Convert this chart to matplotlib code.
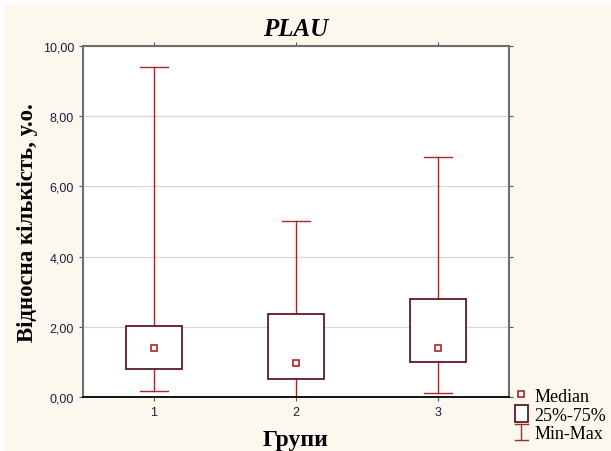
import matplotlib
matplotlib.use("Agg")
import matplotlib.pyplot as plt
from matplotlib.patches import Rectangle
from matplotlib.lines import Line2D
from matplotlib.legend_handler import HandlerBase
from matplotlib.ticker import FuncFormatter

groups = [1, 2, 3]
q_min = [0.17, 0.0, 0.11]
q25 = [0.80, 0.52, 1.00]
median = [1.41, 0.98, 1.41]
q75 = [2.03, 2.37, 2.80]
q_max = [9.41, 5.01, 6.83]

bg = "#fdf8ee"
whisk_col = "#a52a2a"
box_col = "#5e1a24"
med_col = "#b22222"


class BoxIcon(HandlerBase):
    # tall narrow box for the 25%-75% entry
    def create_artists(self, legend, orig, x0, y0, width, height, fontsize, trans):
        h = height * 1.3
        r = Rectangle((x0, y0 + height / 2 - h / 2), width, h,
                      facecolor="white", edgecolor=box_col, lw=1.3, transform=trans)
        return [r]


class RangeIcon(HandlerBase):
    # I-shaped whisker symbol for Min-Max
    def create_artists(self, legend, orig, x0, y0, width, height, fontsize, trans):
        h = height * 1.3
        cx = x0 + width / 2
        yb = y0 + height / 2 - h / 2
        yt = yb + h
        kw = dict(color=whisk_col, lw=1.0, transform=trans)
        return [Line2D([cx, cx], [yb, yt], **kw),
                Line2D([x0, x0 + width], [yt, yt], **kw),
                Line2D([x0, x0 + width], [yb, yb], **kw)]


fig = plt.figure(figsize=(6.11, 4.52), dpi=100)
fig.patch.set_facecolor("white")
fig.patches.append(Rectangle((4 / 611, 0), 1, 1 - 6 / 452, transform=fig.transFigure,
                             facecolor=bg, edgecolor="none", zorder=-10))

ax = fig.add_axes([83 / 611, 54 / 452, 426 / 611, 351 / 452])
ax.set_facecolor("white")

box_w = 0.4
cap_w = 0.2
for g, lo, a, m, b, hi in zip(groups, q_min, q25, median, q75, q_max):
    ax.plot([g, g], [b, hi], color=whisk_col, lw=1.0, zorder=2)
    ax.plot([g, g], [lo, a], color=whisk_col, lw=1.0, zorder=2)
    ax.plot([g - cap_w / 2, g + cap_w / 2], [hi, hi], color=whisk_col, lw=1.0, zorder=2)
    ax.plot([g - cap_w / 2, g + cap_w / 2], [lo, lo], color=whisk_col, lw=1.0, zorder=2)
    ax.add_patch(Rectangle((g - box_w / 2, a), box_w, b - a, facecolor="white",
                           edgecolor=box_col, lw=1.3, zorder=3))
ax.plot(groups, median, "s", ms=4.5, mfc="white", mec=med_col, mew=1.2, ls="none", zorder=4)

ax.set_xlim(0.5, 3.5)
ax.set_ylim(0, 10)
ax.set_xticks(groups)
ax.set_yticks([0, 2, 4, 6, 8, 10])
ax.yaxis.set_major_formatter(FuncFormatter(lambda v, p: f"{v:.2f}".replace(".", ",")))
ax.grid(axis="y", color="#d8d8d8", lw=0.9, zorder=0)
ax.tick_params(labelsize=9, labelcolor="#1c1c3c", length=3, color="#555555",
               top=True, right=True, direction="out")
for lab in ax.get_xticklabels() + ax.get_yticklabels():
    lab.set_family("Liberation Sans")
for side in ("left", "top", "right"):
    ax.spines[side].set_color("#6e6e6e")
    ax.spines[side].set_linewidth(1.5)
ax.spines["bottom"].set_color("black")
ax.spines["bottom"].set_linewidth(1.3)

ax.set_title("PLAU", family="Liberation Serif", fontsize=18, fontweight="bold",
             fontstyle="italic", pad=8)
ax.set_ylabel("Відносна кількість, у.о.", family="Liberation Serif", fontsize=16.5,
              fontweight="bold", labelpad=3)
ax.set_xlabel("Групи", family="Liberation Serif", fontsize=17, fontweight="bold", labelpad=8)

med_handle = Line2D([], [], marker="s", ms=4.5, mfc="white", mec=med_col, mew=1.2, ls="none")
box_handle = Rectangle((0, 0), 1, 1)
range_handle = Line2D([], [])
leg = ax.legend([med_handle, box_handle, range_handle], ["Median", "25%-75%", "Min-Max"],
                handler_map={box_handle: BoxIcon(), range_handle: RangeIcon()},
                loc="lower left", bbox_to_anchor=(0.996, -0.15), frameon=False,
                prop={"family": "Liberation Serif", "size": 13},
                handlelength=0.72, handletextpad=0.4, labelspacing=0.1,
                borderaxespad=0)

fig.savefig("out.png", dpi=100, facecolor=fig.get_facecolor())
